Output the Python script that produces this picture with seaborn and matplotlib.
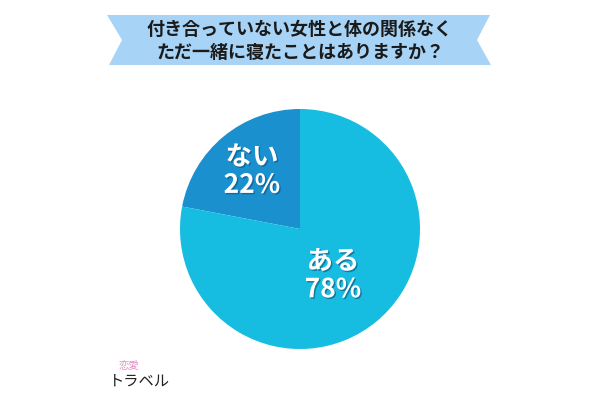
import matplotlib
matplotlib.use("Agg")
import matplotlib.pyplot as plt
import matplotlib.patheffects as pe
from matplotlib.patches import Polygon
import seaborn as sns

title_lines = ["付き合っていない女性と体の関係なく", "ただ一緒に寝たことはありますか？"]
categories = ["ない", "ある"]
values = [22, 78]
colors = ["#1a90cf", "#16bde0"]
logo_small = "恋愛"
logo_main = "トラベル"

sns.set_style("white")
plt.rcParams['font.family'] = ['Noto Sans CJK JP', 'DejaVu Sans']

fig = plt.figure(figsize=(6, 4), dpi=100)
bg = fig.add_axes([0, 0, 1, 1])
bg.set_xlim(0, 600)
bg.set_ylim(400, 0)
bg.axis("off")

ribbon = Polygon([(107, 15), (490, 15), (477, 40), (491, 65), (109, 65), (122, 40)],
                 closed=True, facecolor="#a7d4f6", edgecolor="none")
bg.add_patch(ribbon)
bg.text(300, 29, title_lines[0], ha="center", va="center", fontsize=13, fontweight="bold", color="#1a1a1a")
bg.text(300, 52, title_lines[1], ha="center", va="center", fontsize=13, fontweight="bold", color="#1a1a1a")

bg.text(129, 366, logo_small, ha="center", va="center", fontsize=7.5, color="#e58fc8")
bg.text(139, 381, logo_main, ha="center", va="center", fontsize=11, color="#222222")

ax = fig.add_axes([0.3, 0.1275, 0.4, 0.6])
wedges, _ = ax.pie(values, colors=colors, startangle=90, counterclock=True,
                   wedgeprops=dict(linewidth=0))
ax.set_xlim(-1, 1)
ax.set_ylim(-1, 1)
ax.set_aspect("equal")
ax.axis("off")

eff = [pe.withSimplePatchShadow(offset=(1, -1), shadow_rgbFace="#0b4f7a", alpha=0.6)]
pos = {"ない": (-0.40, 0.48), "ある": (0.275, -0.39)}
for c, v in zip(categories, values):
    x, y = pos[c]
    ax.text(x, y, f"{c}\n{v}%", ha="center", va="center", fontsize=19, fontweight="bold",
            color="white", linespacing=1.05, path_effects=eff)

fig.savefig("out.png", dpi=100, facecolor="white")
